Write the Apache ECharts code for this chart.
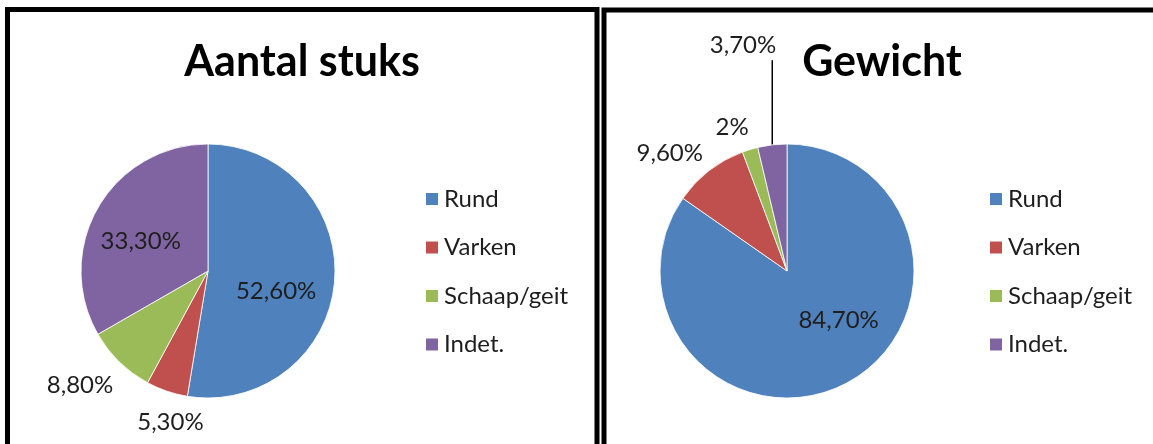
<!DOCTYPE html>
<html>
<head>
<meta charset="utf-8">
<script src="https://cdn.jsdelivr.net/npm/echarts@6/dist/echarts.min.js"></script>
<style>
  html, body { margin: 0; padding: 0; background: #ffffff; }
  #chart { width: 1153px; height: 444px; }
</style>
</head>
<body>
<div id="chart"></div>
<script>
// Share of finds per animal category, by count and by weight (percent)
const categories = ['Rund', 'Varken', 'Schaap/geit', 'Indet.'];
const stuksValues = [52.6, 5.3, 8.8, 33.3];
const gewichtValues = [84.7, 9.6, 2.0, 3.7];
const titles = ['Aantal stuks', 'Gewicht'];

const colors = ['#4F81BD', '#C0504D', '#9BBB59', '#8064A2'];
const FONT = 'Lato, "Open Sans", sans-serif';
const TEXT = '#1e1e1e';

// Geometry and label placement for each pie: [angle shift in degrees, radius factor]
const pies = [
  { center: [208, 271], radius: 127, values: stuksValues,
    place: [[12, 0.56], [-5, 1.23], [4, 1.35], [-6, 0.58]] },
  { center: [787, 271], radius: 127, values: gewichtValues,
    place: [[-19, 0.56], [-7, 1.31], [-4, 1.21], 'leader'] }
];

function fmt(v) {
  return Number.isInteger(v) ? v + '%' : v.toFixed(2).replace('.', ',') + '%';
}

function midAngle(values, i) {
  const total = values.reduce((a, b) => a + b, 0);
  let before = 0;
  for (let k = 0; k < i; k++) before += values[k];
  return (before + values[i] / 2) / total * 360;
}

function placeLabel(p) {
  const pie = pies[p.seriesIndex];
  const spec = pie.place[p.dataIndex];
  const [cx, cy] = pie.center;
  const r = pie.radius;
  const mid = midAngle(pie.values, p.dataIndex);
  if (spec === 'leader') {
    const a = mid * Math.PI / 180;
    const x0 = cx + r * Math.sin(a);
    const y0 = cy - r * Math.cos(a);
    const yTop = cy - r * 1.66;
    return {
      x: x0 + 4, y: yTop - 3, align: 'right', verticalAlign: 'bottom',
      labelLinePoints: [[x0, y0], [x0, (y0 + yTop) / 2], [x0, yTop]]
    };
  }
  const a = (mid + spec[0]) * Math.PI / 180;
  return {
    x: cx + r * spec[1] * Math.sin(a),
    y: cy - r * spec[1] * Math.cos(a),
    align: 'center', verticalAlign: 'middle'
  };
}

function buildSeries(pie) {
  return {
    type: 'pie',
    center: pie.center,
    radius: pie.radius,
    startAngle: 90,
    clockwise: true,
    avoidLabelOverlap: false,
    silent: true,
    itemStyle: { borderColor: '#ffffff', borderWidth: 0.8 },
    label: { color: TEXT, fontFamily: FONT, fontSize: 24, formatter: p => fmt(p.value) },
    labelLine: { show: false },
    labelLayout: placeLabel,
    data: categories.map((name, i) => ({
      name: name,
      value: pie.values[i],
      itemStyle: { color: colors[i] },
      labelLine: pie.place[i] === 'leader'
        ? { show: true, lineStyle: { color: '#000000', width: 1.5 } }
        : { show: false }
    }))
  };
}

function buildLegend(left) {
  return {
    orient: 'vertical', left: left, top: 182,
    icon: 'rect', itemWidth: 14, itemHeight: 14, itemGap: 24.5,
    selectedMode: false,
    data: categories,
    textStyle: { fontFamily: FONT, fontSize: 24, color: TEXT, lineHeight: 24 }
  };
}

const chart = echarts.init(document.getElementById('chart'), null, { renderer: 'canvas' });
chart.setOption({
  animation: false,
  backgroundColor: '#ffffff',
  legend: [buildLegend(419), buildLegend(983)],
  series: pies.map(buildSeries),
  graphic: [
    { type: 'rect', shape: { x: 7.5, y: 9.5, width: 589.5, height: 520 },
      style: { fill: null, stroke: '#000000', lineWidth: 5 } },
    { type: 'rect', shape: { x: 604, y: 10, width: 620, height: 520 },
      style: { fill: null, stroke: '#000000', lineWidth: 5 } },
    { type: 'text', x: 302, y: 62,
      style: { text: titles[0], fill: '#000000', font: 'bold 43px ' + FONT,
               textAlign: 'center', textVerticalAlign: 'middle' } },
    { type: 'text', x: 882, y: 62,
      style: { text: titles[1], fill: '#000000', font: 'bold 43px ' + FONT,
               textAlign: 'center', textVerticalAlign: 'middle' } }
  ]
});
</script>
</body>
</html>
